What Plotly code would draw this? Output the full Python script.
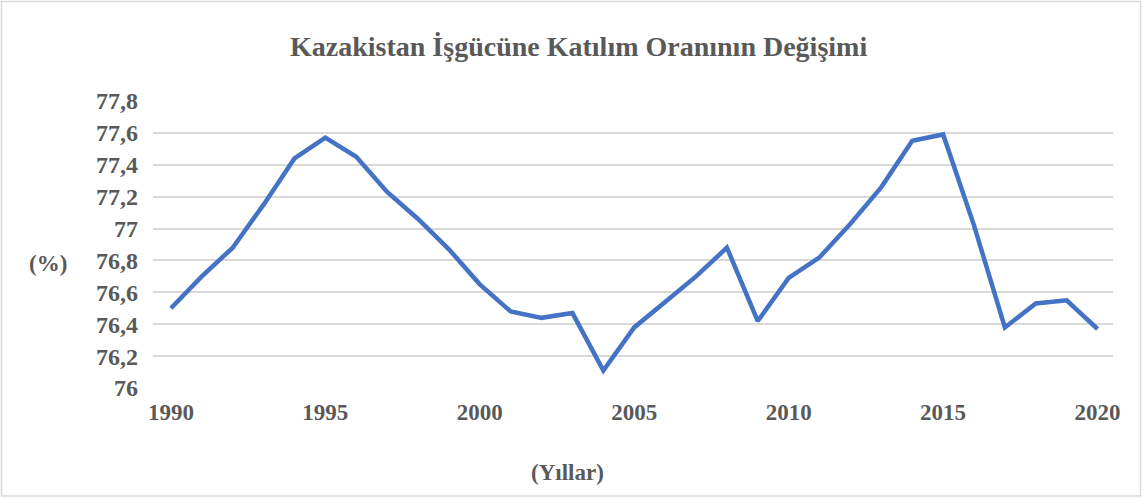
import plotly.graph_objects as go

years = list(range(1990, 2021))
rate = [76.50, 76.70, 76.88, 77.15, 77.44, 77.57, 77.45, 77.23, 77.06, 76.87,
        76.65, 76.48, 76.44, 76.47, 76.11, 76.38, 76.54, 76.70, 76.88, 76.42,
        76.69, 76.82, 77.03, 77.26, 77.55, 77.59, 77.02, 76.38, 76.53, 76.55,
        76.37]
y_tick_vals = [76, 76.2, 76.4, 76.6, 76.8, 77, 77.2, 77.4, 77.6, 77.8]
y_tick_text = ["76", "76,2", "76,4", "76,6", "76,8", "77", "77,2", "77,4", "77,6", "77,8"]
x_tick_vals = [1990, 1995, 2000, 2005, 2010, 2015, 2020]

title_text = "Kazakistan İşgücüne Katılım Oranının Değişimi"
x_title = "(Yıllar)"
y_title = "(%)"

W, H = 1143, 498
ML, MR, MT, MB = 153, 30, 101, 110
FONT = "Liberation Serif"
GREY = "#595959"

fig = go.Figure()
fig.add_trace(go.Scatter(x=years, y=rate, mode="lines",
                         line=dict(color="#4472C4", width=4.5), showlegend=False))

pw, ph = W - ML - MR, H - MT - MB
def px_to_paper_x(p): return (p - ML) / pw
def px_to_paper_y(p): return (H - MB - p) / ph

fig.update_layout(
    width=W, height=H,
    margin=dict(l=ML, r=MR, t=MT, b=MB),
    paper_bgcolor="white", plot_bgcolor="white",
    font=dict(family=FONT, color=GREY),
    xaxis=dict(range=[1989.42, 2020.5], tickvals=x_tick_vals, showgrid=False,
               zeroline=False, showline=False, ticks="", ticklabelstandoff=8,
               tickfont=dict(family=FONT, size=23, color=GREY, weight="bold")),
    yaxis=dict(range=[76, 77.8], tickvals=y_tick_vals, ticktext=y_tick_text,
               showgrid=True, gridcolor="#D9D9D9", gridwidth=1.5, zeroline=False,
               showline=False, ticks="", ticklabelstandoff=14,
               tickfont=dict(family=FONT, size=24, color=GREY, weight="bold")),
    shapes=[dict(type="rect", xref="paper", yref="paper",
                 x0=px_to_paper_x(1.5), x1=px_to_paper_x(W - 2.5),
                 y0=px_to_paper_y(H - 2), y1=px_to_paper_y(1.5),
                 line=dict(color="#D9D9D9", width=1.5), fillcolor="rgba(0,0,0,0)",
                 layer="below")],
    annotations=[
        dict(text="<b>" + title_text + "</b>", xref="paper", yref="paper",
             x=px_to_paper_x(578), y=px_to_paper_y(46), showarrow=False,
             xanchor="center", yanchor="middle",
             font=dict(family=FONT, size=28, color=GREY)),
        dict(text="<b>" + y_title + "</b>", xref="paper", yref="paper",
             x=px_to_paper_x(48), y=px_to_paper_y(263), showarrow=False,
             xanchor="center", yanchor="middle",
             font=dict(family=FONT, size=23, color=GREY)),
        dict(text="<b>" + x_title + "</b>", xref="paper", yref="paper",
             x=px_to_paper_x(567), y=px_to_paper_y(472), showarrow=False,
             xanchor="center", yanchor="middle",
             font=dict(family=FONT, size=23, color=GREY)),
    ],
)

fig.write_html("out.html", config={"displayModeBar": False},
               post_script="document.body.style.margin='0';")
